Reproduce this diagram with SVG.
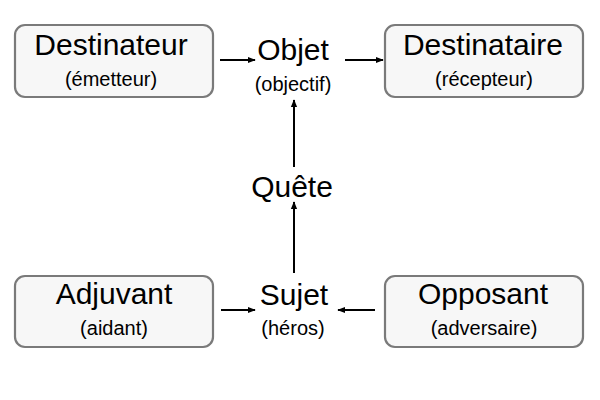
<svg xmlns="http://www.w3.org/2000/svg" width="600" height="400" viewBox="0 0 600 400">
<style>
.box{fill:#f7f7f7;stroke:#7a7a7a;stroke-width:2.2}
.big{font-family:"Liberation Sans",Arial,sans-serif;font-size:30px;text-anchor:middle;fill:#000}
.small{font-family:"Liberation Sans",Arial,sans-serif;font-size:20px;text-anchor:middle;fill:#000}
.conn{stroke:#000;stroke-width:2;fill:none;marker-end:url(#ah)}
</style>
<defs>
<marker id="ah" viewBox="0 0 10 10" refX="9" refY="5" markerWidth="4" markerHeight="4" orient="auto" markerUnits="strokeWidth">
<path d="M0,1 L10,5 L0,9 z" fill="#000"/>
</marker>
</defs>
<rect width="600" height="400" fill="#fff"/>
<g id="connectors">
<line class="conn" x1="220" y1="60" x2="255" y2="60"/>
<line class="conn" x1="345" y1="60" x2="383" y2="60"/>
<line class="conn" x1="294" y1="167" x2="294" y2="100"/>
<line class="conn" x1="294" y1="273" x2="294" y2="202"/>
<line class="conn" x1="221" y1="310" x2="255" y2="310"/>
<line class="conn" x1="375" y1="310" x2="338" y2="310"/>
</g>
<g id="destinateur">
<rect class="box" x="15" y="25" width="198" height="72" rx="10"/>
<text class="big" x="111" y="55">Destinateur</text>
<text class="small" x="111" y="86">(émetteur)</text>
</g>
<g id="objet">
<text class="big" x="293" y="60">Objet</text>
<text class="small" x="293" y="91">(objectif)</text>
</g>
<g id="destinataire">
<rect class="box" x="385" y="25" width="198" height="72" rx="10"/>
<text class="big" x="483" y="55">Destinataire</text>
<text class="small" x="484" y="86">(récepteur)</text>
</g>
<g id="quete">
<text class="big" x="292" y="197">Quête</text>
</g>
<g id="adjuvant">
<rect class="box" x="15" y="276" width="198" height="71" rx="10"/>
<text class="big" x="114" y="304">Adjuvant</text>
<text class="small" x="114" y="335">(aidant)</text>
</g>
<g id="sujet">
<text class="big" x="294" y="305">Sujet</text>
<text class="small" x="293" y="335">(héros)</text>
</g>
<g id="opposant">
<rect class="box" x="385" y="276" width="198" height="71" rx="10"/>
<text class="big" x="483" y="304">Opposant</text>
<text class="small" x="484" y="335">(adversaire)</text>
</g>
</svg>
